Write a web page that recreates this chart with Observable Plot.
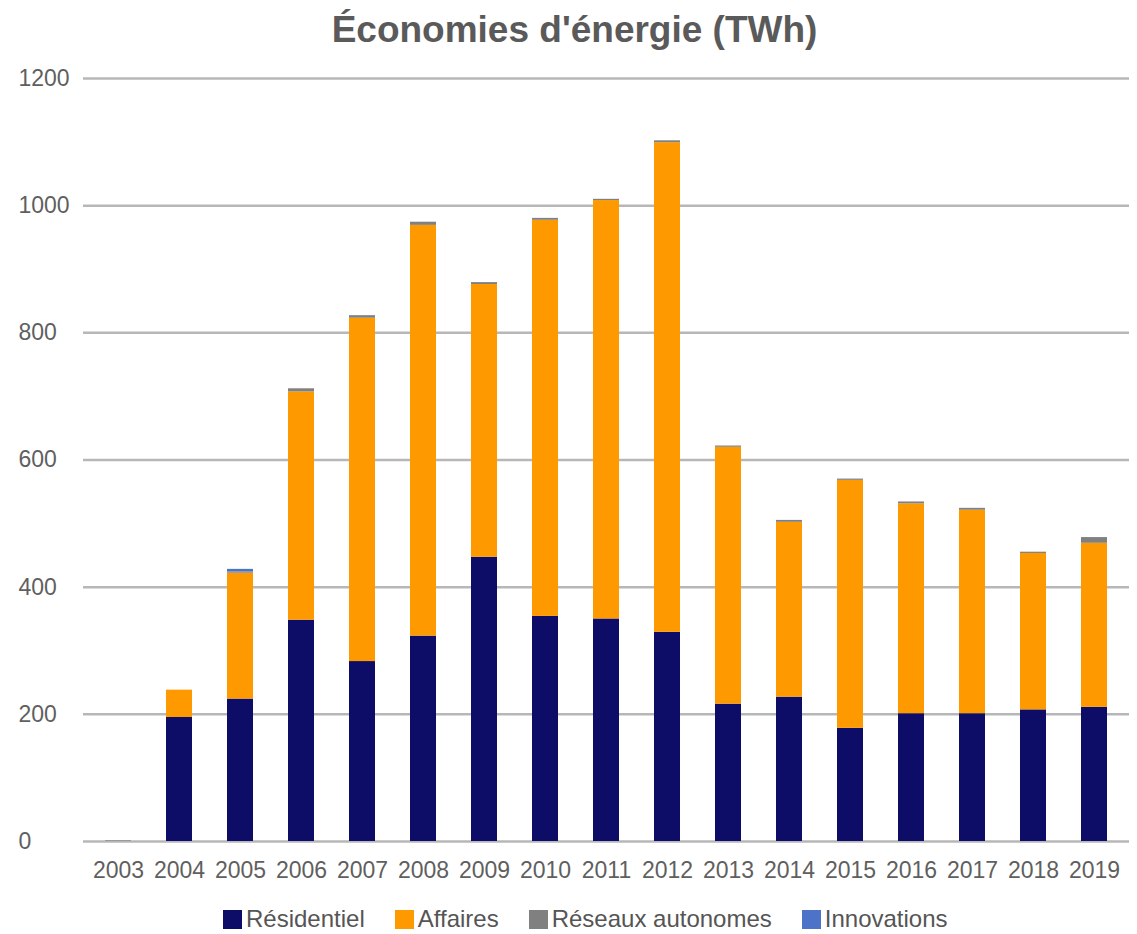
<!DOCTYPE html>
<html>
<head>
<meta charset="utf-8">
<script src="https://cdn.jsdelivr.net/npm/d3@7"></script>
<script src="https://cdn.jsdelivr.net/npm/@observablehq/plot@0.6"></script>
<style>
  html, body { margin: 0; padding: 0; background: #fff; }
  #wrap { position: relative; width: 1137px; height: 934px; font-family: "Liberation Sans", Arial, sans-serif; }
  #title { position: absolute; left: 6px; top: 10px; width: 1137px; text-align: center; font-size: 37px; line-height: 40px; font-weight: bold; color: #5a5a5a; }
  #chart { position: absolute; left: 0; top: 0; }
  #legend { position: absolute; left: 223px; top: 907px; display: flex; gap: 30px; font-size: 24px; line-height: 24px; color: #555; }
  .item { display: flex; align-items: center; }
  .sw { width: 19px; height: 19px; margin-right: 4px; }
</style>
</head>
<body>
<div id="wrap">
  <div id="chart"></div>
  <div id="title">Économies d'énergie (TWh)</div>
  <div id="legend"></div>
</div>
<script>
const years = ["2003","2004","2005","2006","2007","2008","2009","2010","2011","2012","2013","2014","2015","2016","2017","2018","2019"];
const series = ["Résidentiel", "Affaires", "Réseaux autonomes", "Innovations"];
const colors = ["#0d0c66", "#ff9900", "#808080", "#4d73c8"];
const residentiel = [0, 195, 224, 348, 283, 323, 447, 354, 350, 329, 216, 227, 178, 201, 201, 207, 211];
const affaires    = [0, 43, 198, 359, 540, 646, 429, 623, 658, 770, 404, 275, 390, 330, 320, 246, 258];
const reseaux     = [1, 0, 2, 5, 4, 5, 3, 3, 2, 3, 2, 3, 2, 3, 3, 2, 9];
const innovations = [0, 0, 4, 0, 0, 0, 0, 0, 0, 0, 0, 0, 0, 0, 0, 0, 0];
const yTicks = [0, 200, 400, 600, 800, 1000, 1200];

const values = [residentiel, affaires, reseaux, innovations];
const table = [];
years.forEach((yr, i) => {
  series.forEach((s, j) => table.push({year: yr, serie: s, value: values[j][i]}));
});

const chart = Plot.plot({
  width: 1137,
  height: 890,
  marginTop: 78,
  marginBottom: 49,
  marginLeft: 83,
  marginRight: 8,
  style: {fontFamily: "'Liberation Sans', Arial, sans-serif", fontSize: "23px", color: "#5f5f5f", background: "transparent"},
  x: {domain: years, paddingInner: 0.58, paddingOuter: 0.29, label: null, tickSize: 0, tickPadding: 20},
  y: {domain: [0, 1200], label: null},
  color: {type: "ordinal", domain: series, range: colors},
  marks: [
    Plot.ruleY(yTicks, {stroke: "#b7b7b7", strokeWidth: 2.5}),
    Plot.axisY(yTicks, {tickSize: 0, tickPadding: 65, textAnchor: "start", tickFormat: d => String(d), label: null}),
    Plot.barY(table, {x: "year", y: "value", fill: "serie", order: series})
  ]
});
document.getElementById("chart").appendChild(chart);

const legend = document.getElementById("legend");
series.forEach((s, j) => {
  const it = document.createElement("div");
  it.className = "item";
  const sw = document.createElement("span");
  sw.className = "sw";
  sw.style.background = colors[j];
  const t = document.createElement("span");
  t.textContent = s;
  it.appendChild(sw);
  it.appendChild(t);
  legend.appendChild(it);
});
</script>
</body>
</html>
